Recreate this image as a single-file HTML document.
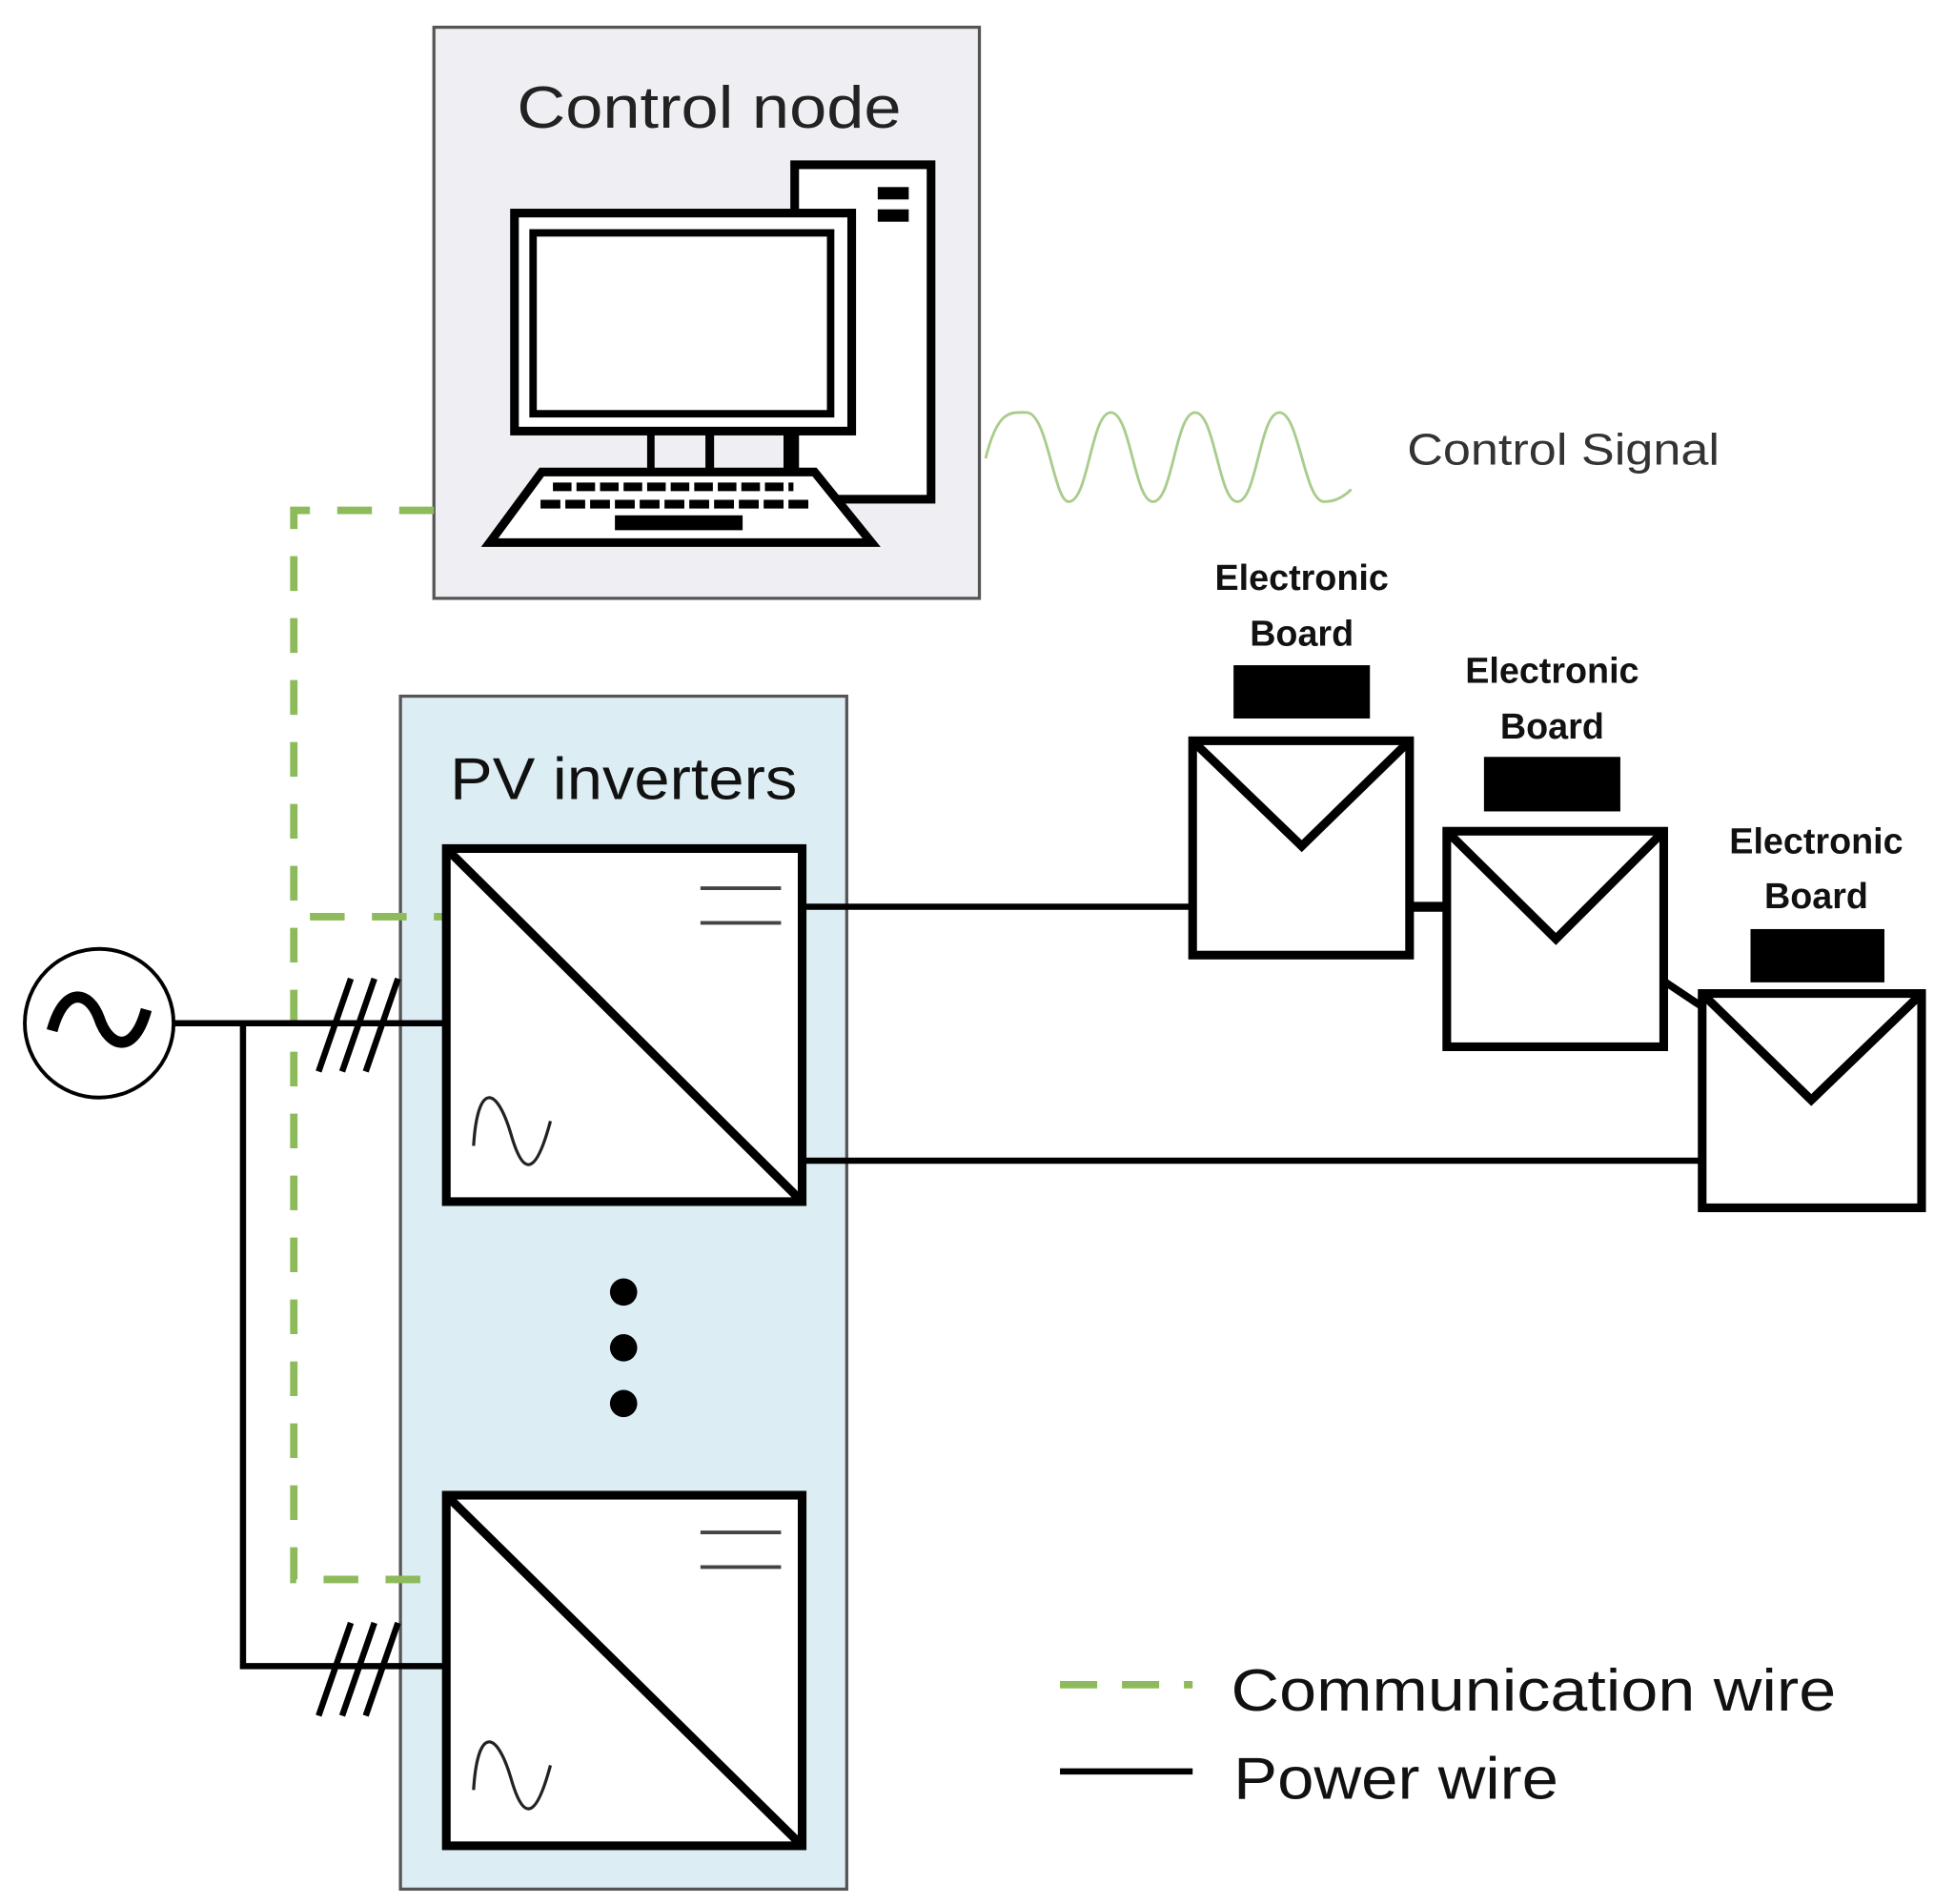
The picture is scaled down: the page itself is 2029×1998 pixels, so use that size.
<!DOCTYPE html>
<html><head><meta charset="utf-8"><style>html,body{margin:0;padding:0;background:#fff}svg{display:block}</style></head>
<body>
<svg width="2029" height="1998" viewBox="0 0 1560 1537" preserveAspectRatio="none" xmlns="http://www.w3.org/2000/svg" font-family="'Liberation Sans','DejaVu Sans',sans-serif">
<rect width="1560" height="1537" fill="#fff"/>
<!-- Control node box -->
<rect x="350" y="22" width="440" height="461" fill="#efeef2" stroke="#555" stroke-width="2.5"/>
<text x="572" y="103" font-size="48" text-anchor="middle" fill="#222" textLength="310" lengthAdjust="spacingAndGlyphs">Control node</text>
<!-- tower -->
<rect x="641" y="133" width="110" height="270" fill="#fff" stroke="#000" stroke-width="7"/>
<rect x="708" y="151" width="25" height="10" fill="#000"/>
<rect x="708" y="169" width="25" height="10" fill="#000"/>
<!-- monitor -->
<rect x="415" y="172" width="272" height="176" fill="#fff" stroke="#000" stroke-width="7"/>
<rect x="430" y="188" width="240" height="146" fill="#fff" stroke="#000" stroke-width="6"/>
<rect x="522" y="350" width="6" height="30" fill="#000"/>
<rect x="569" y="350" width="7" height="30" fill="#000"/>
<rect x="632" y="350" width="6" height="30" fill="#000"/>
<!-- keyboard -->
<polygon points="437,381 657,381 703,438 395,438" fill="#fff" stroke="#000" stroke-width="7" stroke-linejoin="miter"/>
<line x1="446" y1="393" x2="640" y2="393" stroke="#000" stroke-width="7" stroke-dasharray="15 4"/>
<line x1="436" y1="407" x2="655" y2="407" stroke="#000" stroke-width="7" stroke-dasharray="16 4"/>
<rect x="496" y="416" width="103" height="12" fill="#000"/>
<!-- control signal -->
<path d="M795,370 C805,330 815,333 828,333 C845,333 850,405 862,405 C878,405 880,333 896,333 C912,333 915,405 930,405 C946,405 948,333 964,333 C980,333 983,405 998,405 C1014,405 1016,333 1032,333 C1048,333 1052,405 1068,405 C1078,405 1085,400 1090,395" fill="none" stroke="#a9cc8c" stroke-width="2.2"/>
<text x="1135" y="375" font-size="36" fill="#333" textLength="252" lengthAdjust="spacingAndGlyphs">Control Signal</text>
<!-- PV box -->
<rect x="323" y="562" width="360" height="963" fill="#dcedf3" stroke="#555" stroke-width="2.5"/>
<text x="503" y="645" font-size="48" text-anchor="middle" fill="#111" textLength="280" lengthAdjust="spacingAndGlyphs">PV inverters</text>
<!-- green dashed comm wires -->
<g stroke="#8dba5b" stroke-width="6" fill="none" stroke-dasharray="28 22">
<path d="M350,412 L237,412 L237,1275 L360,1275"/>
<path d="M250,740 L360,740"/>
</g>
<!-- inverter 1 -->
<rect x="360" y="685" width="287" height="285" fill="#fff" stroke="#000" stroke-width="7"/>
<line x1="362" y1="687" x2="645" y2="968" stroke="#000" stroke-width="7"/>
<line x1="565" y1="717" x2="630" y2="717" stroke="#444" stroke-width="3"/>
<line x1="565" y1="745" x2="630" y2="745" stroke="#444" stroke-width="3"/>
<path d="M382,925 C385,875 400,875 412,915 C422,950 432,950 444,905" fill="none" stroke="#222" stroke-width="2.5"/>
<!-- dots -->
<circle cx="503" cy="1043" r="11" fill="#000"/>
<circle cx="503" cy="1088" r="11" fill="#000"/>
<circle cx="503" cy="1133" r="11" fill="#000"/>
<!-- inverter 2 -->
<rect x="360" y="1207" width="287" height="283" fill="#fff" stroke="#000" stroke-width="7"/>
<line x1="362" y1="1209" x2="645" y2="1488" stroke="#000" stroke-width="7"/>
<line x1="565" y1="1237" x2="630" y2="1237" stroke="#444" stroke-width="3"/>
<line x1="565" y1="1265" x2="630" y2="1265" stroke="#444" stroke-width="3"/>
<path d="M382,1445 C385,1395 400,1395 412,1435 C422,1470 432,1470 444,1425" fill="none" stroke="#222" stroke-width="2.5"/>
<!-- AC source -->
<circle cx="80" cy="826" r="60" fill="#fff" stroke="#000" stroke-width="3"/>
<path d="M42,832 C52,795 72,800 80,822 C88,846 108,852 118,815" fill="none" stroke="#000" stroke-width="9"/>
<!-- power wiring left -->
<g stroke="#000" stroke-width="5" fill="none">
<path d="M140,826 L360,826"/>
<path d="M196,826 L196,1345 L360,1345"/>
<path d="M257,865 L283,790 M276,865 L302,790 M295,865 L321,790"/>
<path d="M257,1385 L283,1310 M276,1385 L302,1310 M295,1385 L321,1310"/>
</g>
<!-- power wiring right -->
<g stroke="#000" stroke-width="5" fill="none">
<path d="M647,732 L962,732"/>
<path d="M647,937 L1372,937"/>
<path d="M1137,732 L1167,732" stroke-width="8"/>
<path d="M1342,792 L1372,812" stroke-width="6"/>
</g>
<!-- panels -->
<g stroke="#000" stroke-width="7" fill="#fff">
<rect x="962" y="598" width="175" height="173"/>
<rect x="1167" y="671" width="175" height="174"/>
<rect x="1373" y="802" width="177" height="173"/>
</g>
<g stroke="#000" stroke-width="7" fill="none">
<path d="M965,601 L1050,683 L1134,601"/>
<path d="M1170,674 L1255,758 L1339,674"/>
<path d="M1376,805 L1461,888 L1547,805"/>
</g>
<rect x="995" y="537" width="110" height="43" fill="#000"/>
<rect x="1197" y="611" width="110" height="44" fill="#000"/>
<rect x="1412" y="750" width="108" height="43" fill="#000"/>
<g font-size="29" font-weight="bold" text-anchor="middle" fill="#111">
<text x="1050" y="476">Electronic</text><text x="1050" y="521">Board</text>
<text x="1252" y="551">Electronic</text><text x="1252" y="596">Board</text>
<text x="1465" y="689">Electronic</text><text x="1465" y="733">Board</text>
</g>
<!-- legend -->
<path d="M855,1360 L962,1360" stroke="#8dba5b" stroke-width="6" stroke-dasharray="30 20"/>
<path d="M855,1430 L962,1430" stroke="#000" stroke-width="5"/>
<text x="993" y="1381" font-size="48" fill="#111" textLength="488" lengthAdjust="spacingAndGlyphs">Communication wire</text>
<text x="995" y="1452" font-size="48" fill="#111" textLength="262" lengthAdjust="spacingAndGlyphs">Power wire</text>
</svg>
</body></html>
